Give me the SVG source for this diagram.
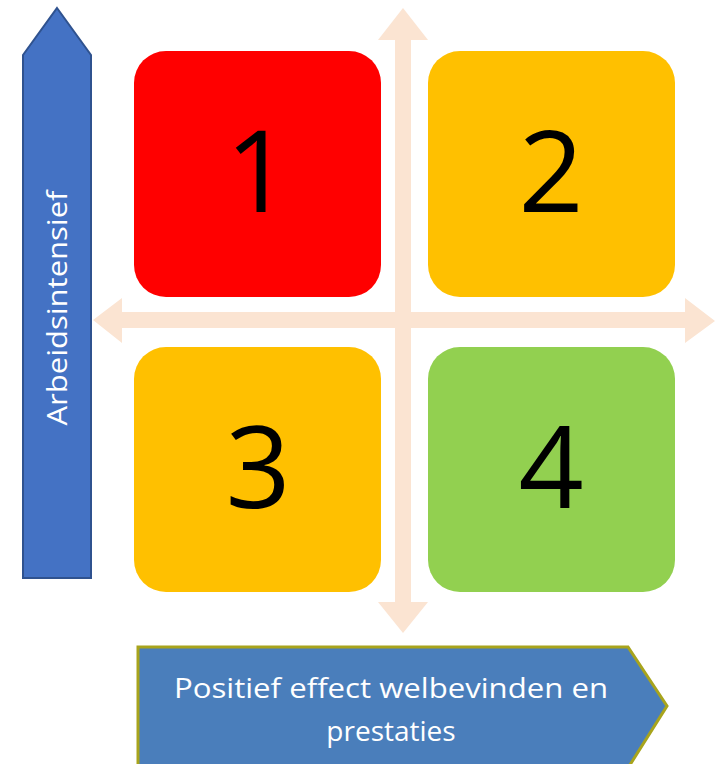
<svg xmlns="http://www.w3.org/2000/svg" width="726" height="764" viewBox="0 0 726 764">
<style>
.box{stroke:none}
.num{font-family:"Open Sans","Liberation Sans",sans-serif;font-size:114px;fill:#000;text-anchor:middle}
.lbl{font-family:"Open Sans","Liberation Sans",sans-serif;font-size:28px;fill:#fff;text-anchor:middle}
.axis{fill:#FBE4D2;stroke:none}
</style>
<rect width="726" height="764" fill="#fff"/>
<g id="connectors">
<polygon class="axis" points="403,8 428,40 411,40 411,602 428,602 403,633 378,602 395,602 395,40 378,40"/>
<polygon class="axis" points="93,320 122,298 122,312 685,312 685,298 715,321 685,343 685,328 122,328 122,343"/>
</g>
<g id="y-axis">
<polygon points="57,8 91,55 91,578 23,578 23,55" fill="#4472C4" stroke="#2F528F" stroke-width="2"/>
<text class="lbl" transform="translate(67,308) rotate(-90)" textLength="235" lengthAdjust="spacingAndGlyphs">Arbeidsintensief</text>
</g>
<g id="node1">
<rect class="box" x="134" y="51" width="247" height="246" rx="32" fill="#FF0000"/>
<text class="num" x="258" y="212">1</text>
</g>
<g id="node2">
<rect class="box" x="428" y="51" width="247" height="246" rx="32" fill="#FFC000"/>
<text class="num" x="551" y="212">2</text>
</g>
<g id="node3">
<rect class="box" x="134" y="347" width="247" height="245" rx="32" fill="#FFC000"/>
<text class="num" x="258" y="508">3</text>
</g>
<g id="node4">
<rect class="box" x="428" y="347" width="247" height="245" rx="32" fill="#92D050"/>
<text class="num" x="551" y="508">4</text>
</g>
<g id="x-axis">
<polygon points="138,647 628,647 667,706 628,768 138,768" fill="#4A7EBB" stroke="#A8A41C" stroke-width="3"/>
<text class="lbl" x="391" y="698" textLength="434" lengthAdjust="spacingAndGlyphs">Positief effect welbevinden en</text>
<text class="lbl" x="391" y="741">prestaties</text>
</g>
</svg>
